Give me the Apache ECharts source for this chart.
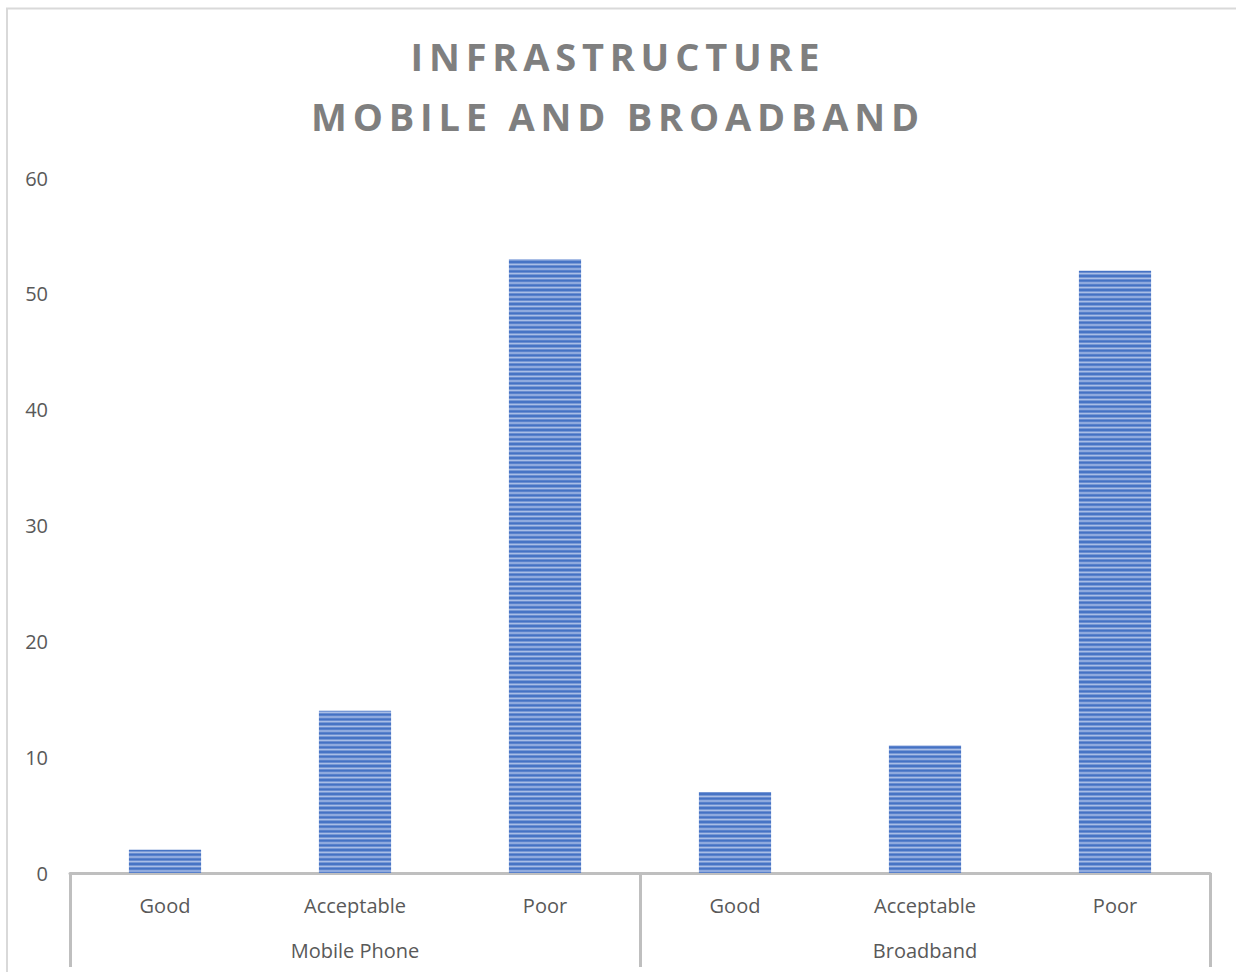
<!DOCTYPE html>
<html><head><meta charset="utf-8">
<script src="https://cdn.jsdelivr.net/npm/echarts@6/dist/echarts.min.js"></script>
<style>html,body{margin:0;padding:0;background:#fff}#c{width:1236px;height:972px}
#c svg text[style*="38px"]{letter-spacing:5.8px}</style>
</head><body><div id="c"></div>
<script>
const groups = ['Mobile Phone', 'Broadband'];
const ratings = ['Good', 'Acceptable', 'Poor'];
const categories = ['Good', 'Acceptable', 'Poor', 'Good', 'Acceptable', 'Poor'];
const values = [2, 14, 53, 7, 11, 52];
const titleLines = ['INFRASTRUCTURE', 'MOBILE AND BROADBAND'];

function stripes() {
  const c = document.createElement('canvas');
  c.width = 4; c.height = 14;
  const g = c.getContext('2d');
  g.fillStyle = '#4472C4'; g.fillRect(0, 0, 4, 14);
  for (let i = 0; i < 3; i++) {
    const y = i * 14 / 3;
    g.fillStyle = '#A9BEE6'; g.fillRect(0, y + 2.2, 4, 1.6);
    g.fillStyle = '#7C9AD6'; g.fillRect(0, y + 1.6, 4, 0.6);
    g.fillStyle = '#7C9AD6'; g.fillRect(0, y + 3.8, 4, 0.6);
  }
  return c;
}
const chart = echarts.init(document.getElementById('c'), null, {renderer: 'svg'});
const axisCol = '#BFBFBF';
chart.setOption({
  animation: false,
  backgroundColor: '#fff',
  title: {
    text: titleLines.join('\n'), left: 'center', top: 21, padding: [5, 0, 5, 20],
    textStyle: {fontFamily: 'Open Sans', fontWeight: 'bold', fontSize: 38, color: '#7F7F7F', lineHeight: 60}
  },
  graphic: [{type: 'rect', shape: {x: 7, y: 8.5, width: 1240, height: 980}, style: {fill: null, stroke: '#D9D9D9', lineWidth: 2}}],
  grid: {left: 70, right: 26, top: 178, bottom: 99, containLabel: false},
  xAxis: [{
    type: 'category', data: categories, position: 'bottom',
    axisLine: {lineStyle: {color: axisCol, width: 3}},
    axisTick: {show: false},
    axisLabel: {color: '#595959', fontSize: 20, fontFamily: 'Open Sans', margin: 22, interval: 0}
  }, {
    type: 'category', data: groups, position: 'bottom',
    axisLine: {show: false},
    axisTick: {show: true, length: 94, lineStyle: {color: axisCol, width: 3}},
    axisLabel: {color: '#595959', fontSize: 20, fontFamily: 'Open Sans', margin: 67, interval: 0}
  }],
  yAxis: {
    type: 'value', min: 0, max: 60, interval: 10,
    axisLine: {show: false}, axisTick: {show: false}, splitLine: {show: false},
    axisLabel: {color: '#595959', fontSize: 20, fontFamily: 'Open Sans', margin: 22}
  },
  series: [{
    type: 'bar', xAxisIndex: 0, data: values, barWidth: '38%',
    itemStyle: {color: {image: stripes(), repeat: 'repeat'}, borderColor: '#4472C4', borderWidth: 0}
  }]
});
</script></body></html>
